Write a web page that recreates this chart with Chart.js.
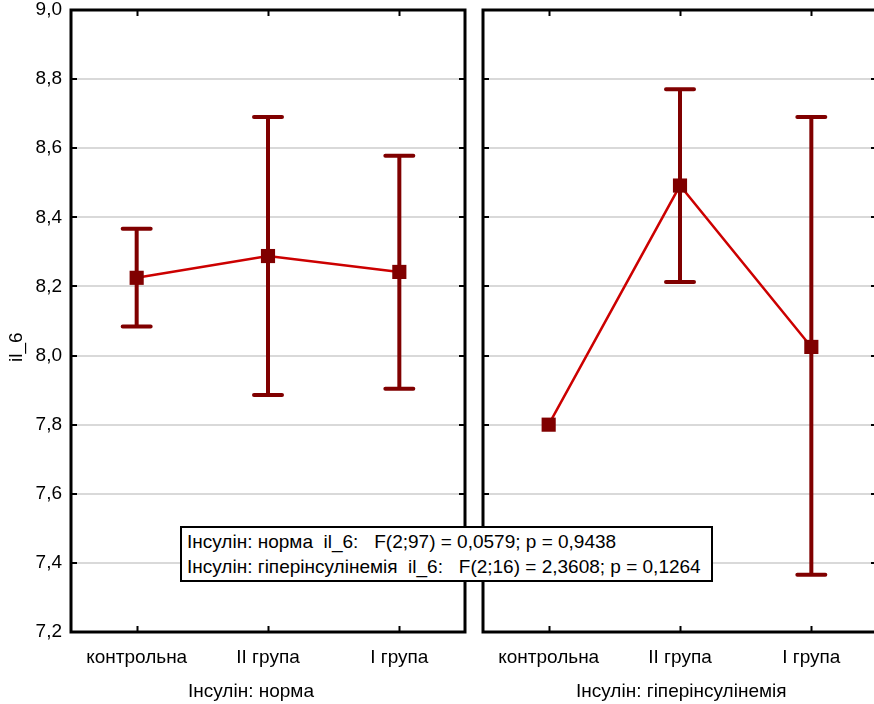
<!DOCTYPE html>
<html>
<head>
<meta charset="utf-8">
<script src="https://cdn.jsdelivr.net/npm/chart.js@4"></script>
<style>
  body { margin: 0; width: 874px; height: 704px; overflow: hidden; background: #fff; position: relative; font-family: "Liberation Sans", Arial, sans-serif; }
  .panel { position: absolute; top: 0; height: 704px; }
  #left { left: 0; width: 475px; }
  #right { left: 470px; width: 417px; }
  .axis-title { position: absolute; top: 680px; font-size: 19px; line-height: 22px; white-space: nowrap; color: #000; }
  #ytitle { position: absolute; left: 5px; top: 338px; font-size: 19px; line-height: 22px; white-space: nowrap; transform-origin: 0 0; transform: rotate(-90deg) translate(-24px, 0); }
  #note { position: absolute; left: 180px; top: 526px; width: 524px; height: 51px; border: 2px solid #000; background: #fff;
          font-size: 19px; line-height: 25px; padding: 1px 0 0 5px; white-space: pre; color: #000; }
</style>
</head>
<body>
<div class="panel" id="left"><canvas id="chartLeft" width="475" height="704"></canvas></div>
<div class="panel" id="right"><canvas id="chartRight" width="417" height="704"></canvas></div>
<div id="ytitle">il_6</div>
<div class="axis-title" id="titleLeft" style="left:188px">Інсулін: норма</div>
<div class="axis-title" id="titleRight" style="left:576px">Інсулін: гіперінсулінемія</div>
<div id="note">Інсулін: норма  il_6:   F(2;97) = 0,0579; p = 0,9438
Інсулін: гіперінсулінемія  il_6:   F(2;16) = 2,3608; p = 0,1264</div>

<script>
// categories and values
const categories = ['контрольна', 'II група', 'I група'];

const normMean  = [8.225, 8.288, 8.242];
const normUpper = [8.367, 8.690, 8.578];
const normLower = [8.084, 7.886, 7.904];

const hyperMean  = [7.800, 8.492, 8.025];
const hyperUpper = [null, 8.771, 8.690];
const hyperLower = [null, 8.213, 7.366];

const yMin = 7.2, yMax = 9.0, yStep = 0.2;

const lineColor = '#cc0000';
const barColor = '#800000';

// error bars + frame + inward ticks
const statPlugin = {
  id: 'stat',
  beforeDatasetsDraw(chart, args, opts) {
    const ctx = chart.ctx;
    const x = chart.scales.x, y = chart.scales.y;
    ctx.save();
    ctx.strokeStyle = barColor;
    opts.upper.forEach((u, i) => {
      const l = opts.lower[i];
      if (u == null || l == null) return;
      const px = x.getPixelForValue(i);
      const pu = y.getPixelForValue(u), pl = y.getPixelForValue(l);
      ctx.lineWidth = 4;
      ctx.lineCap = 'butt';
      ctx.beginPath();
      ctx.moveTo(px, pu); ctx.lineTo(px, pl);
      ctx.stroke();
      ctx.lineCap = 'round';
      ctx.beginPath();
      ctx.moveTo(px - 14, pu); ctx.lineTo(px + 14, pu);
      ctx.moveTo(px - 14, pl); ctx.lineTo(px + 14, pl);
      ctx.stroke();
    });
    ctx.restore();
  },
  afterDraw(chart) {
    const ctx = chart.ctx;
    const a = chart.chartArea;
    const x = chart.scales.x, y = chart.scales.y;
    ctx.save();
    ctx.strokeStyle = '#000';
    ctx.lineWidth = 2;
    ctx.beginPath();
    x.ticks.forEach((t, i) => {
      const px = Math.round(x.getPixelForTick(i)) + 0.5;
      ctx.moveTo(px, a.top); ctx.lineTo(px, a.top + 6);
      ctx.moveTo(px, a.bottom); ctx.lineTo(px, a.bottom - 6);
    });
    y.ticks.forEach((t, i) => {
      const py = Math.round(y.getPixelForTick(i));
      ctx.moveTo(a.left, py); ctx.lineTo(a.left + 6, py);
      ctx.moveTo(a.right, py); ctx.lineTo(a.right - 6, py);
    });
    ctx.stroke();
    ctx.lineWidth = 3;
    ctx.strokeRect(a.left, a.top, a.right - a.left, a.bottom - a.top);
    ctx.restore();
  }
};

const tickFont = { family: '"Liberation Sans", Arial', size: 19 };

function makeChart(id, means, upper, lower, showY, yWidth) {
  return new Chart(document.getElementById(id), {
    type: 'line',
    data: {
      labels: categories,
      datasets: [{
        data: means,
        borderColor: lineColor,
        borderWidth: 2.5,
        pointStyle: 'rect',
        pointRadius: 10,
        pointBackgroundColor: barColor,
        pointBorderWidth: 0,
        tension: 0
      }]
    },
    options: {
      responsive: false,
      animation: false,
      layout: { padding: { left: 0, right: 2, top: 10, bottom: 0 } },
      plugins: {
        legend: { display: false },
        tooltip: { enabled: false },
        stat: { upper: upper, lower: lower }
      },
      scales: {
        x: {
          offset: true,
          grid: { display: false, drawTicks: false },
          border: { display: false },
          ticks: { color: '#000', font: tickFont, padding: 14, maxRotation: 0 },
          afterFit: s => { s.height = 72; s.paddingLeft = 0; s.paddingRight = 0; }
        },
        y: {
          min: yMin,
          max: yMax,
          grid: { color: '#d9d9d9', lineWidth: 2, drawTicks: false },
          border: { display: false },
          ticks: {
            display: showY,
            stepSize: yStep,
            color: '#000',
            padding: 9,
            font: tickFont,
            callback: v => v.toFixed(1).replace('.', ',')
          },
          afterFit: s => { s.width = yWidth; s.paddingTop = 0; s.paddingBottom = 0; }
        }
      }
    },
    plugins: [statPlugin]
  });
}

makeChart('chartLeft', normMean, normUpper, normLower, true, 71);
makeChart('chartRight', hyperMean, hyperUpper, hyperLower, false, 13);
</script>
</body>
</html>
